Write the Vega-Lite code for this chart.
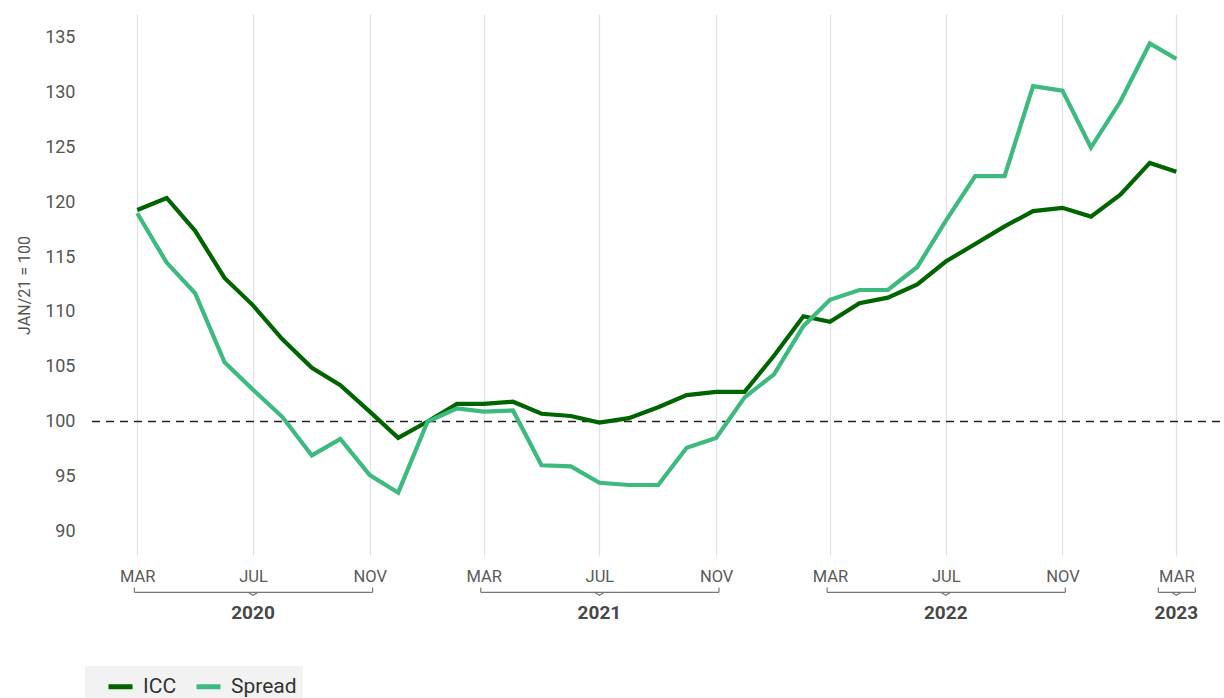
{
  "$schema": "https://vega.github.io/schema/vega-lite/v6.json",
  "background": "white",
  "padding": {"left": 16, "top": 14, "right": 4, "bottom": 0},
  "config": {
    "font": "Roboto",
    "view": {"stroke": null}
  },
  "bounds": "flush",
  "spacing": 30,
  "datasets": {
    "series": [
      {"month": "2020-03-01", "series": "ICC", "value": 119.3},
      {"month": "2020-04-01", "series": "ICC", "value": 120.4},
      {"month": "2020-05-01", "series": "ICC", "value": 117.4},
      {"month": "2020-06-01", "series": "ICC", "value": 113.1},
      {"month": "2020-07-01", "series": "ICC", "value": 110.6},
      {"month": "2020-08-01", "series": "ICC", "value": 107.5},
      {"month": "2020-09-01", "series": "ICC", "value": 104.9},
      {"month": "2020-10-01", "series": "ICC", "value": 103.3},
      {"month": "2020-11-01", "series": "ICC", "value": 100.9},
      {"month": "2020-12-01", "series": "ICC", "value": 98.5},
      {"month": "2021-01-01", "series": "ICC", "value": 100.0},
      {"month": "2021-02-01", "series": "ICC", "value": 101.6},
      {"month": "2021-03-01", "series": "ICC", "value": 101.6},
      {"month": "2021-04-01", "series": "ICC", "value": 101.8},
      {"month": "2021-05-01", "series": "ICC", "value": 100.7},
      {"month": "2021-06-01", "series": "ICC", "value": 100.5},
      {"month": "2021-07-01", "series": "ICC", "value": 99.9},
      {"month": "2021-08-01", "series": "ICC", "value": 100.3},
      {"month": "2021-09-01", "series": "ICC", "value": 101.3},
      {"month": "2021-10-01", "series": "ICC", "value": 102.4},
      {"month": "2021-11-01", "series": "ICC", "value": 102.7},
      {"month": "2021-12-01", "series": "ICC", "value": 102.7},
      {"month": "2022-01-01", "series": "ICC", "value": 106.0},
      {"month": "2022-02-01", "series": "ICC", "value": 109.6},
      {"month": "2022-03-01", "series": "ICC", "value": 109.1},
      {"month": "2022-04-01", "series": "ICC", "value": 110.8},
      {"month": "2022-05-01", "series": "ICC", "value": 111.3},
      {"month": "2022-06-01", "series": "ICC", "value": 112.5},
      {"month": "2022-07-01", "series": "ICC", "value": 114.6},
      {"month": "2022-08-01", "series": "ICC", "value": 116.2},
      {"month": "2022-09-01", "series": "ICC", "value": 117.8},
      {"month": "2022-10-01", "series": "ICC", "value": 119.2},
      {"month": "2022-11-01", "series": "ICC", "value": 119.5},
      {"month": "2022-12-01", "series": "ICC", "value": 118.7},
      {"month": "2023-01-01", "series": "ICC", "value": 120.7},
      {"month": "2023-02-01", "series": "ICC", "value": 123.6},
      {"month": "2023-03-01", "series": "ICC", "value": 122.8},
      {"month": "2020-03-01", "series": "Spread", "value": 119.0},
      {"month": "2020-04-01", "series": "Spread", "value": 114.5},
      {"month": "2020-05-01", "series": "Spread", "value": 111.7},
      {"month": "2020-06-01", "series": "Spread", "value": 105.4},
      {"month": "2020-07-01", "series": "Spread", "value": 102.9},
      {"month": "2020-08-01", "series": "Spread", "value": 100.4},
      {"month": "2020-09-01", "series": "Spread", "value": 96.9},
      {"month": "2020-10-01", "series": "Spread", "value": 98.4},
      {"month": "2020-11-01", "series": "Spread", "value": 95.1},
      {"month": "2020-12-01", "series": "Spread", "value": 93.5},
      {"month": "2021-01-01", "series": "Spread", "value": 100.0},
      {"month": "2021-02-01", "series": "Spread", "value": 101.2},
      {"month": "2021-03-01", "series": "Spread", "value": 100.9},
      {"month": "2021-04-01", "series": "Spread", "value": 101.0},
      {"month": "2021-05-01", "series": "Spread", "value": 96.0},
      {"month": "2021-06-01", "series": "Spread", "value": 95.9},
      {"month": "2021-07-01", "series": "Spread", "value": 94.4},
      {"month": "2021-08-01", "series": "Spread", "value": 94.2},
      {"month": "2021-09-01", "series": "Spread", "value": 94.2},
      {"month": "2021-10-01", "series": "Spread", "value": 97.6},
      {"month": "2021-11-01", "series": "Spread", "value": 98.5},
      {"month": "2021-12-01", "series": "Spread", "value": 102.2},
      {"month": "2022-01-01", "series": "Spread", "value": 104.3},
      {"month": "2022-02-01", "series": "Spread", "value": 108.7},
      {"month": "2022-03-01", "series": "Spread", "value": 111.1},
      {"month": "2022-04-01", "series": "Spread", "value": 112.0},
      {"month": "2022-05-01", "series": "Spread", "value": 112.0},
      {"month": "2022-06-01", "series": "Spread", "value": 114.1},
      {"month": "2022-07-01", "series": "Spread", "value": 118.3},
      {"month": "2022-08-01", "series": "Spread", "value": 122.4},
      {"month": "2022-09-01", "series": "Spread", "value": 122.4},
      {"month": "2022-10-01", "series": "Spread", "value": 130.6},
      {"month": "2022-11-01", "series": "Spread", "value": 130.2},
      {"month": "2022-12-01", "series": "Spread", "value": 125.0},
      {"month": "2023-01-01", "series": "Spread", "value": 129.2},
      {"month": "2023-02-01", "series": "Spread", "value": 134.5},
      {"month": "2023-03-01", "series": "Spread", "value": 133.1}
    ],
    "years": [
      {"year": "2020", "from": "2020-02-27", "mid": "2020-07-01", "to": "2020-11-04"},
      {"year": "2021", "from": "2021-02-26", "mid": "2021-07-01", "to": "2021-11-04"},
      {"year": "2022", "from": "2022-02-26", "mid": "2022-07-01", "to": "2022-11-04"},
      {"year": "2023", "from": "2023-02-10", "mid": "2023-03-01", "to": "2023-03-21"}
    ]
  },
  "vconcat": [
    {
      "width": 1134,
      "height": 542,
      "data": {"name": "series"},
      "layer": [
        {
          "data": {"values": [{}]},
          "mark": {"type": "rule", "color": "#222222", "strokeWidth": 1.5, "strokeDash": [8, 6]},
          "encoding": {"y": {"datum": 100, "type": "quantitative"}}
        },
        {
          "mark": {"type": "line", "strokeWidth": 4.2},
          "encoding": {
            "x": {
              "field": "month",
              "type": "temporal",
              "scale": {
                "type": "utc",
                "domain": [
                  {"year": 2020, "month": 1, "date": 7, "utc": true},
                  {"year": 2023, "month": 4, "date": 16, "utc": true}
                ]
              },
              "axis": {
                "title": null,
                "domain": false,
                "ticks": false,
                "tickSize": 0,
                "labelPadding": 12,
                "labelFontSize": 16.5,
                "labelColor": "#5a5a5a",
                "labelBaseline": "top",
                "gridColor": "#e2e2e2",
                "gridWidth": 1.2,
                "values": [
                  {"year": 2020, "month": 3, "date": 1, "utc": true},
                  {"year": 2020, "month": 7, "date": 1, "utc": true},
                  {"year": 2020, "month": 11, "date": 1, "utc": true},
                  {"year": 2021, "month": 3, "date": 1, "utc": true},
                  {"year": 2021, "month": 7, "date": 1, "utc": true},
                  {"year": 2021, "month": 11, "date": 1, "utc": true},
                  {"year": 2022, "month": 3, "date": 1, "utc": true},
                  {"year": 2022, "month": 7, "date": 1, "utc": true},
                  {"year": 2022, "month": 11, "date": 1, "utc": true},
                  {"year": 2023, "month": 3, "date": 1, "utc": true}
                ],
                "labelExpr": "upper(utcFormat(datum.value, '%b'))"
              }
            },
            "y": {
              "field": "value",
              "type": "quantitative",
              "scale": {"domain": [87.72, 137.19], "nice": false, "zero": false},
              "axis": {
                "title": "JAN/21 = 100",
                "titleFontSize": 16,
                "titleFontWeight": "normal",
                "titleColor": "#555555",
                "titlePadding": 12,
                "labelFontSize": 18,
                "labelColor": "#555555",
                "labelPadding": 11,
                "ticks": false,
                "domain": false,
                "gridColor": "#e2e2e2",
                "gridWidth": 1.2,
                "values": [90, 95, 100, 105, 110, 115, 120, 125, 130, 135]
              }
            },
            "color": {
              "field": "series",
              "type": "nominal",
              "scale": {"domain": ["ICC", "Spread"], "range": ["#006400", "#3dba7f"]},
              "legend": {
                "title": null,
                "orient": "none",
                "legendX": -1,
                "legendY": 652,
                "direction": "horizontal",
                "symbolType": "stroke",
                "symbolSize": 576,
                "symbolStrokeWidth": 5,
                "symbolOffset": 15,
                "labelFontSize": 21,
                "labelColor": "#333333",
                "labelOffset": 8,
                "columnPadding": 2,
                "fillColor": "#f2f2f2",
                "padding": 6
              }
            }
          }
        }
      ]
    },
    {
      "width": 1134,
      "height": 44,
      "data": {"name": "years"},
      "layer": [
        {
          "mark": {"type": "rule", "color": "#777777", "strokeWidth": 1.2},
          "encoding": {
            "x": {
              "field": "from",
              "type": "temporal",
              "scale": {
                "type": "utc",
                "domain": [
                  {"year": 2020, "month": 1, "date": 7, "utc": true},
                  {"year": 2023, "month": 4, "date": 16, "utc": true}
                ]
              },
              "axis": null
            },
            "x2": {"field": "to"},
            "y": {"datum": 6.5, "type": "quantitative", "scale": {"domain": [0, 44], "reverse": true}, "axis": null}
          }
        },
        {
          "mark": {"type": "rule", "color": "#777777", "strokeWidth": 1.2},
          "encoding": {
            "x": {"field": "from", "type": "temporal"},
            "y": {"datum": 1.5, "type": "quantitative"},
            "y2": {"datum": 6.5}
          }
        },
        {
          "mark": {"type": "rule", "color": "#777777", "strokeWidth": 1.2},
          "encoding": {
            "x": {"field": "to", "type": "temporal"},
            "y": {"datum": 1.5, "type": "quantitative"},
            "y2": {"datum": 6.5}
          }
        },
        {
          "mark": {"type": "point", "shape": "M-1,-0.3L0,0.3L1,-0.3", "size": 100, "filled": false, "stroke": "#777777", "strokeWidth": 1.2, "opacity": 1},
          "encoding": {
            "x": {"field": "mid", "type": "temporal"},
            "y": {"datum": 8, "type": "quantitative"}
          }
        },
        {
          "mark": {"type": "text", "fontSize": 19, "fontWeight": "bold", "color": "#484848", "baseline": "middle", "align": "center"},
          "encoding": {
            "x": {"field": "mid", "type": "temporal"},
            "y": {"datum": 27.5, "type": "quantitative"},
            "text": {"field": "year"}
          }
        }
      ]
    }
  ]
}
